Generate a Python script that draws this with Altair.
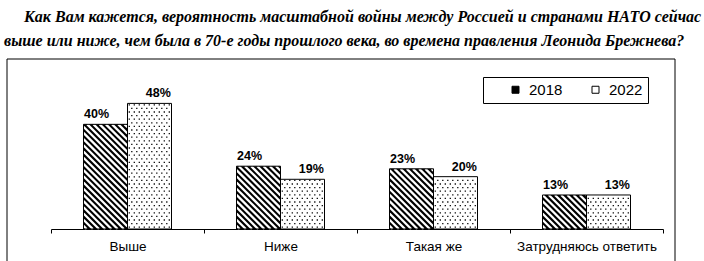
import altair as alt
import pandas as pd

# ---------------- data ----------------
categories = ["Выше", "Ниже", "Такая же", "Затрудняюсь ответить"]
years = ["2018", "2022"]
values_2018 = [40, 24, 23, 13]
values_2022 = [48, 19, 20, 13]
y_ticks = [0, 10, 20, 30, 40, 50, 60]
title_lines = [
    "\u200b\u00a0\u00a0\u00a0\u00a0\u00a0Как Вам кажется, вероятность масштабной войны между Россией и странами НАТО сейчас",
    "выше или ниже, чем была в 70-е годы прошлого века, во времена правления Леонида Брежнева?",
]

# ---------------- layout constants ----------------
W, H = 612, 157
Y_MAX = 60
SX = W / len(categories)     # px per category unit
SY = H / Y_MAX               # px per percent
BAR_PX = 44
BAR_U = BAR_PX / SX
HATCH_PITCH = 6.2            # horizontal pitch of hatch lines, px
DOT_DX, DOT_DY = 5.0, 3.6

FONT = "Liberation Sans"
TITLE_FONT = "Liberation Serif"

# ---------------- tables ----------------
rows = []
for i, c in enumerate(categories):
    for yr, vals in (("2018", values_2018), ("2022", values_2022)):
        v = vals[i]
        center = i + 0.5
        x0 = center - BAR_U if yr == "2018" else center
        x1 = center if yr == "2018" else center + BAR_U
        rows.append(dict(category=c, year=yr, value=v, zero=0, x0=x0, x1=x1, label=f"{v}%"))
bars = pd.DataFrame(rows)

hatch = []
dots = []
for r in rows:
    xl, xr, h = r["x0"] * SX, r["x1"] * SX, r["value"] * SY
    if r["year"] == "2018":
        c = xl + HATCH_PITCH / 2
        while c < xr + h:
            xa, xb = max(xl, c - h), min(xr, c)
            if xb > xa:
                hatch.append(dict(x=xa / SX, y=(c - xa) / SY, x2=xb / SX, y2=(c - xb) / SY))
            c += HATCH_PITCH
    else:
        j = 0
        yy = DOT_DY / 2
        while yy < h - 1:
            xx = xl + 1.8 + (j % 2) * DOT_DX / 2
            while xx < xr - 1:
                dots.append(dict(x=xx / SX, y=yy / SY))
                xx += DOT_DX
            yy += DOT_DY
            j += 1
hatch = pd.DataFrame(hatch)
dots = pd.DataFrame(dots)

xq = alt.Scale(domain=[0, len(categories)], nice=False, zero=False)
ys = alt.Scale(domain=[0, Y_MAX], nice=False)

bars_fill = alt.Chart(bars).mark_bar(strokeWidth=0).encode(
    x=alt.X("x0:Q", scale=xq, axis=None),
    x2="x1:Q",
    y=alt.Y("value:Q", scale=ys, title=None,
            axis=alt.Axis(values=y_ticks, labelExpr="datum.value + '%'", grid=False,
                          tickSize=5, tickColor="black", domainColor="black",
                          labelFont=FONT, labelFontSize=12.5, labelColor="black",
                          labelPadding=3)),
    y2="zero:Q",
    fill=alt.Fill("year:N", scale=alt.Scale(domain=years, range=["#000000", "#ffffff"]),
                  legend=alt.Legend(title=None, orient="none", legendX=432, legendY=5,
                                    direction="horizontal", columns=2,
                                    symbolType="square", symbolSize=49,
                                    symbolStrokeColor="black", symbolStrokeWidth=1,
                                    symbolOffset=20, labelOffset=6, columnPadding=5,
                                    labelFont=FONT, labelFontSize=15, labelColor="black",
                                    labelExpr="datum.label == '2022' ? datum.label + '\u00a0\u00a0\u00a0\u00a0' : datum.label",
                                    strokeColor="black", padding=5)),
)

hatch_layer = alt.Chart(hatch).mark_rule(color="white", strokeWidth=2.3, strokeCap="butt").encode(
    x=alt.X("x:Q", scale=xq, axis=None),
    x2="x2:Q",
    y=alt.Y("y:Q", scale=ys, axis=None),
    y2="y2:Q",
)

dot_layer = alt.Chart(dots).mark_square(size=1.6, color="black", opacity=1).encode(
    x=alt.X("x:Q", scale=xq, axis=None),
    y=alt.Y("y:Q", scale=ys, axis=None),
)

bars_outline = alt.Chart(bars).mark_bar(fillOpacity=0, stroke="black", strokeWidth=1).encode(
    x=alt.X("x0:Q", scale=xq, axis=None),
    x2="x1:Q",
    y=alt.Y("value:Q", scale=ys, axis=None),
    y2="zero:Q",
)

frame = alt.Chart(pd.DataFrame({"f": [0]})).mark_rect(fillOpacity=0, stroke="black", strokeWidth=1).encode(
    x=alt.value(-44), x2=alt.value(624), y=alt.value(-13), y2=alt.value(H + 60)
)

quant = alt.layer(bars_fill, hatch_layer, dot_layer, bars_outline, frame)

labels = alt.Chart(bars).mark_text(font=FONT, fontSize=12.5, fontWeight="bold", color="black",
                                   baseline="alphabetic", dy=-6).encode(
    x=alt.X("category:N", sort=categories, title=None,
            scale=alt.Scale(paddingInner=0, paddingOuter=0),
            axis=alt.Axis(tickBand="extent", labelAngle=0, labelFont=FONT, labelFontSize=13.5,
                          labelColor="black", tickSize=4, tickColor="black", domainColor="black",
                          labelPadding=6)),
    xOffset=alt.XOffset("year:N", scale=alt.Scale(domain=years, paddingInner=0,
                                                  paddingOuter=(SX / BAR_PX - 2) / 2)),
    y=alt.Y("value:Q", scale=ys, axis=None),
    text="label:N",
)

chart = alt.layer(quant, labels).resolve_scale(x="independent").properties(
    width=W, height=H,
    padding={"left": 51, "top": 72, "right": 704 - 51 - W, "bottom": 261 - 72 - H},
    autosize="none",
    background="white",
    title=alt.TitleParams(text=title_lines, anchor="start", frame="group",
                          font=TITLE_FONT, fontSize=16, fontStyle="italic",
                          fontWeight="bold", lineHeight=24, color="black", dx=-47, dy=-6),
).configure_view(stroke=None).configure_title(font=TITLE_FONT)

chart.save("out.html", embed_options={"renderer": "svg", "actions": False})
